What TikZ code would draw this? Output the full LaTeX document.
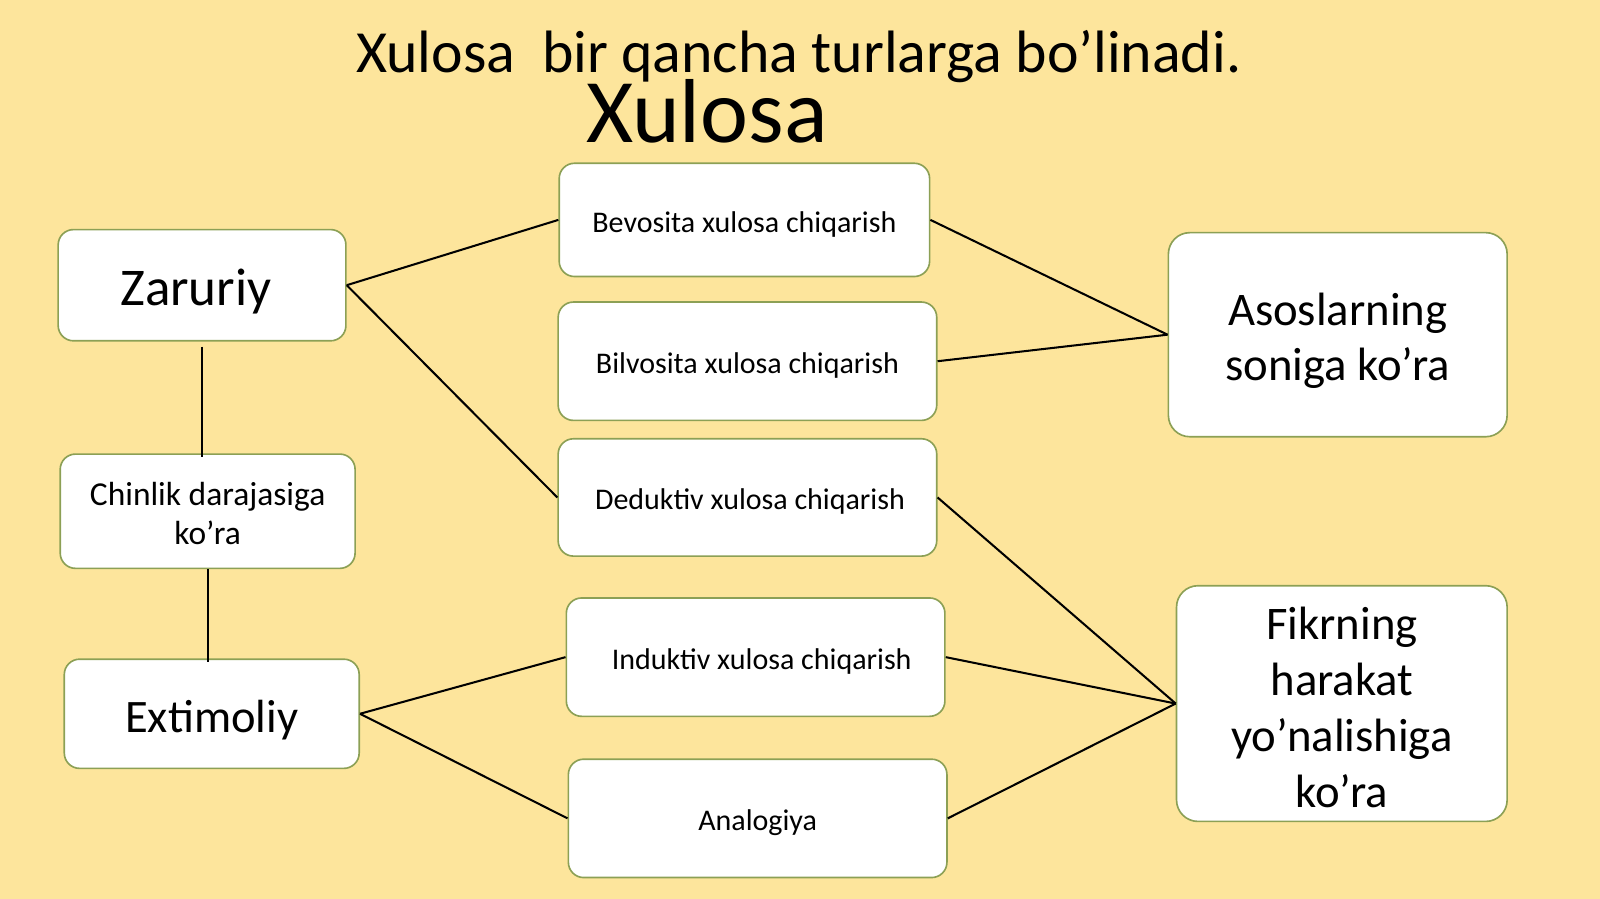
\documentclass[tikz,border=0pt]{standalone}
\usepackage{fontspec}
\setmainfont{Carlito}
\definecolor{bgy}{RGB}{253,229,156}
\definecolor{bord}{RGB}{140,160,85}
\begin{document}
\begin{tikzpicture}[x=0.5pt,y=-0.5pt,
  box/.style={draw=bord,line width=0.8pt,fill=white,rounded corners=7.5pt,inner sep=0pt},
  txt/.style={inner sep=0pt,align=center},
  small/.style={txt,font=\fontsize{14.7}{17}\selectfont},
  conn/.style={line width=1pt,black}]
\fill[bgy] (0,0) rectangle (1568,881);
\useasboundingbox (0,0) rectangle (1568,881);
\node[font=\fontsize{29.3}{34}\selectfont] (title) at (783,55) {Xulosa\ \ bir qancha turlarga bo’linadi.};
\node[font=\fontsize{44.5}{50}\selectfont] (main) at (693,109) {Xulosa};
% left boxes
\node[box,minimum width=141pt,minimum height=54.5pt] (zar) at (198,279.5) {};
\node[txt,font=\fontsize{26}{30}\selectfont] (zart) at (192,285.5) {Zaruriy};
\node[box,minimum width=144.5pt,minimum height=56pt] (chin) at (203.5,501) {};
\node[txt,font=\fontsize{16.4}{19}\selectfont] (chint) at (203.5,503) {Chinlik darajasiga\\ko’ra};
\node[box,minimum width=144.5pt,minimum height=53.5pt] (ext) at (207.5,699.5) {};
\node[txt,font=\fontsize{22.8}{27}\selectfont] (extt) at (207.5,706) {Extimoliy};
% middle
\node[box,minimum width=181.5pt,minimum height=55.5pt] (bev) at (729.5,215.5) {};
\node[small] (bevt) at (729.5,220.5) {Bevosita xulosa chiqarish};
\node[box,minimum width=185.5pt,minimum height=58pt] (bil) at (732.5,354) {};
\node[small] (bilt) at (732.5,358) {Bilvosita xulosa chiqarish};
\node[box,minimum width=185.5pt,minimum height=57.5pt] (ded) at (732.5,487.5) {};
\node[small] (dedt) at (735,491.5) {Deduktiv xulosa chiqarish};
\node[box,minimum width=185.5pt,minimum height=58pt] (ind) at (740.5,644) {};
\node[small] (indt) at (746.5,648) {Induktiv xulosa chiqarish};
\node[box,minimum width=185.5pt,minimum height=58pt] (ana) at (742.5,802) {};
\node[small] (anat) at (742.5,806) {Analogiya};
% right
\node[box,minimum width=166pt,minimum height=100pt,rounded corners=10.5pt] (aso) at (1311,328) {};
\node[txt,font=\fontsize{22.9}{27}\selectfont] (asot) at (1311,334) {Asoslarning\\soniga ko’ra};
\node[box,minimum width=162pt,minimum height=115.5pt,rounded corners=10.5pt] (fik) at (1315,689.5) {};
\node[txt,font=\fontsize{22.9}{27.5}\selectfont] (fikt) at (1315,693.5) {Fikrning\\harakat\\yo’nalishiga\\ko’ra};
% connectors
\draw[conn] (zar.east) -- (bev.west);
\draw[conn] (zar.east) -- (ded.west);
\draw[conn] ([yshift=-2.5pt]zar.south) -- ([yshift=-2pt]zar.south |- chin.north);
\draw[conn] (chin.south) -- ([yshift=-2pt]chin.south |- ext.north);
\draw[conn] (ext.east) -- (ind.west);
\draw[conn] (ext.east) -- (ana.west);
\draw[conn] (bev.east) -- (aso.west);
\draw[conn] (bil.east) -- (aso.west);
\draw[conn] (ded.east) -- (fik.west);
\draw[conn] (ind.east) -- (fik.west);
\draw[conn] (ana.east) -- (fik.west);
\end{tikzpicture}
\end{document}
